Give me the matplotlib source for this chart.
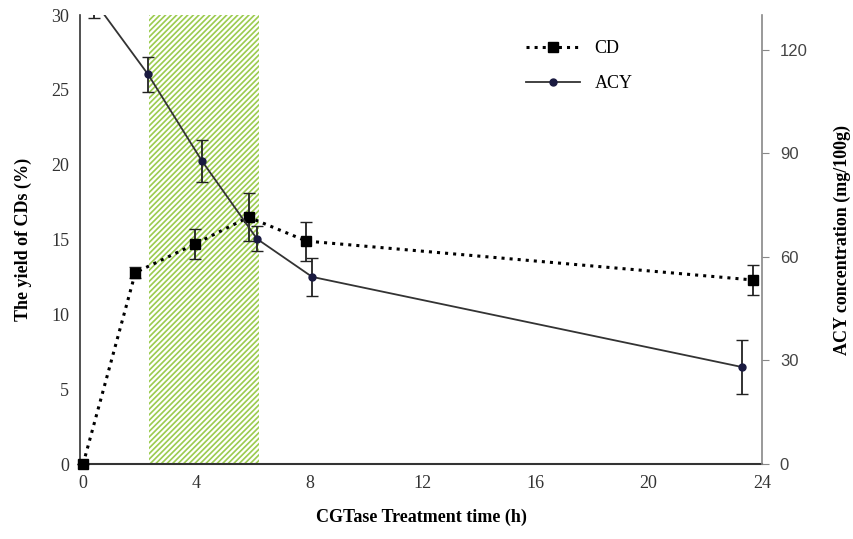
import matplotlib
matplotlib.use('Agg')
import matplotlib.pyplot as plt
from matplotlib.lines import Line2D

# CD yield (left axis)
time_cd = [0, 1.85, 3.95, 5.85, 7.9, 23.7]
cd_yield = [0, 12.8, 14.7, 16.5, 14.9, 12.3]
cd_err = [0, 0.4, 1.0, 1.6, 1.3, 1.0]

# ACY concentration (right axis)
time_acy = [0.4, 2.3, 4.2, 6.15, 8.1, 23.3]
acy_conc = [134, 112.8, 87.8, 65.2, 54.2, 28.1]
acy_err = [4.7, 5.0, 6.0, 3.6, 5.5, 7.8]

# shaded time window
shade = (2.33, 6.22)

x_ticks = [0, 4, 8, 12, 16, 20, 24]
left_ticks = [0, 5, 10, 15, 20, 25, 30]
right_ticks = [0, 30, 60, 90, 120]

serif = 'Liberation Serif'
plt.rcParams['hatch.color'] = 'white'
plt.rcParams['hatch.linewidth'] = 1.6

fig = plt.figure(figsize=(8.54, 5.39), dpi=100)
ax = fig.add_axes([0.094, 0.139, 0.798, 0.833])
ax2 = ax.twinx()

ax.axvspan(shade[0], shade[1], facecolor='#9ccc50', edgecolor='white',
           hatch='//////', linewidth=0, zorder=0)

ax.errorbar(time_cd, cd_yield, yerr=cd_err, color='black', ls=':', lw=2.2,
            marker='s', ms=7, ecolor='#222222', elinewidth=1.3, capsize=4,
            clip_on=False, zorder=3)
ax2.errorbar(time_acy, acy_conc, yerr=acy_err, color='#333333', ls='-', lw=1.3,
             marker='o', ms=5, mfc='#1a1a40', mec='#1a1a40',
             ecolor='#222222', elinewidth=1.3, capsize=4, zorder=3)

ax.set_xlim(-0.1, 24)
ax.set_ylim(0, 30)
ax2.set_ylim(0, 130)
ax.set_xticks(x_ticks)
ax.set_yticks(left_ticks)
ax2.set_yticks(right_ticks)

ax.spines['top'].set_visible(False)
ax.spines['right'].set_visible(False)
ax2.spines['top'].set_visible(False)
ax2.spines['left'].set_visible(False)
ax2.spines['bottom'].set_visible(False)
ax.spines['left'].set_color('#333333')
ax.spines['bottom'].set_color('#333333')
ax.spines['left'].set_linewidth(1.2)
ax.spines['bottom'].set_linewidth(1.5)
ax2.spines['right'].set_color('#888888')
ax2.spines['right'].set_linewidth(1.2)

ax.tick_params(axis='both', length=0, pad=8, labelcolor='#333333')
ax2.tick_params(axis='y', length=5, color='#888888', pad=8, labelcolor='#444444')
for lab in ax.get_xticklabels() + ax.get_yticklabels():
    lab.set_fontfamily(serif)
    lab.set_fontsize(13)
for lab in ax2.get_yticklabels():
    lab.set_fontfamily('Liberation Sans')
    lab.set_fontsize(12)

ax.set_xlabel('CGTase Treatment time (h)', fontfamily=serif, fontweight='bold',
              fontsize=13, labelpad=12)
ax.set_ylabel('The yield of CDs (%)', fontfamily=serif, fontweight='bold',
              fontsize=13, labelpad=14)
ax2.set_ylabel('ACY concentration (mg/100g)', fontfamily=serif, fontweight='bold',
               fontsize=13, labelpad=19)

handles = [
    Line2D([], [], color='black', ls=':', lw=2.2, marker='s', ms=7),
    Line2D([], [], color='#333333', ls='-', lw=1.3, marker='o', ms=5,
           mfc='#1a1a40', mec='#1a1a40'),
]
ax.legend(handles, ['CD', 'ACY'], loc='upper left', bbox_to_anchor=(0.63, 0.98),
          frameon=False, prop={'family': serif, 'size': 13}, handlelength=3,
          labelspacing=1.0)

fig.savefig('out.png', dpi=100)
